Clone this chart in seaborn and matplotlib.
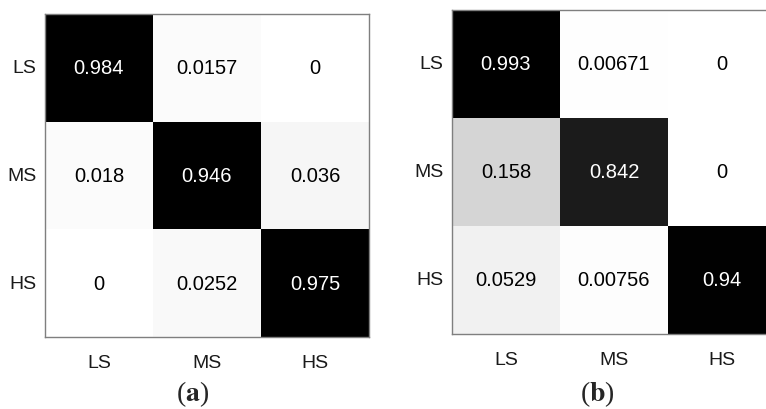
import numpy as np
import pandas as pd
import matplotlib
matplotlib.use("Agg")
import matplotlib.pyplot as plt
import seaborn as sns

classes = ["LS", "MS", "HS"]
matrix_a = [[0.984, 0.0157, 0.0],
            [0.018, 0.946, 0.036],
            [0.0, 0.0252, 0.975]]
labels_a = [["0.984", "0.0157", "0"],
            ["0.018", "0.946", "0.036"],
            ["0", "0.0252", "0.975"]]
matrix_b = [[0.993, 0.00671, 0.0],
            [0.158, 0.842, 0.0],
            [0.0529, 0.00756, 0.94]]
labels_b = [["0.993", "0.00671", "0"],
            ["0.158", "0.842", "0"],
            ["0.0529", "0.00756", "0.94"]]
panel_labels = ["a", "b"]

sns.set_theme(style="white")
plt.rcParams["font.family"] = ["Liberation Sans", "DejaVu Sans"]
plt.rcParams["mathtext.fontset"] = "stix"

W, H = 766, 410
fig = plt.figure(figsize=(W / 100, H / 100), dpi=100)

boxes = [(45, 15, 324, 323), (452, 11, 324, 324)]
mats = [matrix_a, matrix_b]
labs = [labels_a, labels_b]
label_x = [193, 597]
VMAX = 0.945

for (x0, y0, w, h), m, lab, pl, lx in zip(boxes, mats, labs, panel_labels, label_x):
    ax = fig.add_axes([x0 / W, 1 - (y0 + h) / H, w / W, h / H])
    df = pd.DataFrame(m, index=classes, columns=classes)
    arr = np.array(m)
    sns.heatmap(df, ax=ax, cmap="gray_r", vmin=0, vmax=VMAX, cbar=False,
                annot=np.array(lab), fmt="", square=False,
                annot_kws={"fontsize": 14.5})
    for t, v in zip(ax.texts, arr.flatten()):
        t.set_color("white" if v > 0.5 else "black")
    for s in ax.spines.values():
        s.set_visible(True)
        s.set_color("#7f7f7f")
        s.set_linewidth(1.0)
    ax.tick_params(axis="both", length=0, labelsize=14, colors="black")
    ax.tick_params(axis="x", pad=12)
    ax.tick_params(axis="y", pad=6)
    ax.set_xticklabels(classes, rotation=0, color="#1a1a1a")
    ax.set_yticklabels(classes, rotation=0, color="#1a1a1a")
    ax.set_xlabel("")
    ax.set_ylabel("")
    fig.text(lx / W, 1 - 394 / H, r"($\mathbf{" + pl + r"}$)", ha="center", va="center",
             fontsize=20, family="Liberation Serif")

fig.savefig("out.png", dpi=100)
